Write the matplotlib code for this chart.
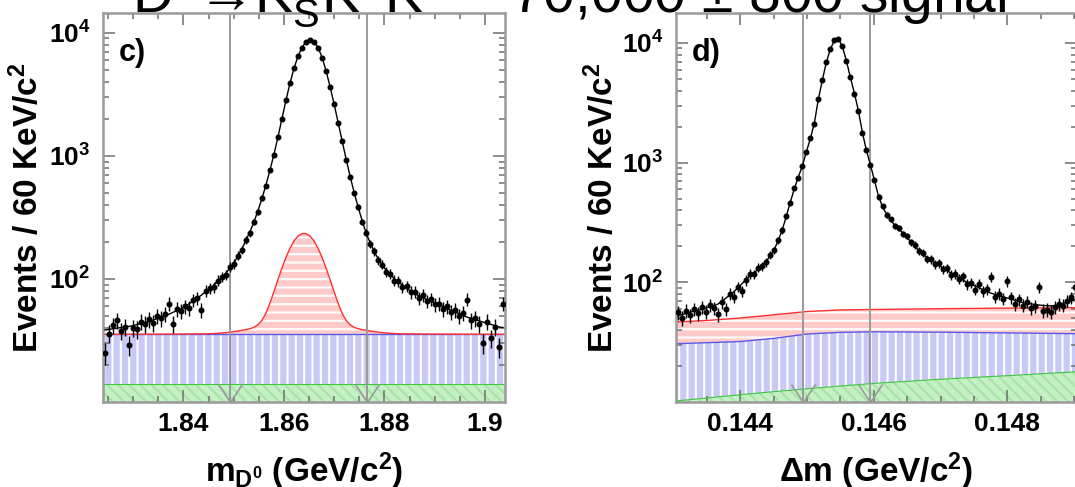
import numpy as np
import matplotlib
matplotlib.use("Agg")
import matplotlib.pyplot as plt
from matplotlib.path import Path
from matplotlib.ticker import FixedLocator, FixedFormatter, MultipleLocator, LogLocator, NullFormatter

plt.rcParams['font.family'] = ['Liberation Sans', 'DejaVu Sans']
plt.rcParams['mathtext.fontset'] = 'custom'
plt.rcParams['mathtext.rm'] = 'Liberation Sans'
plt.rcParams['mathtext.it'] = 'Liberation Sans:italic'
plt.rcParams['mathtext.bf'] = 'Liberation Sans:bold'
plt.rcParams['hatch.linewidth'] = 1.5

# ---------------- panel c) : m(D0) ----------------
c_range = (1.824, 1.904)
c_nbins = 100
c_counts = [25, 36, 42, 46, 38, 41, 29, 40, 39, 45,
            43, 47, 44, 50, 48, 52, 63, 43, 57, 55,
            60, 58, 67, 70, 56, 80, 84, 86, 97, 104,
            108, 125, 133, 155, 172, 208, 236, 292, 350, 452,
            570, 765, 1015, 1420, 1990, 2830, 3880, 5140, 6440, 7600,
            8500, 8820, 8490, 7600, 6300, 4910, 3620, 2640, 1850, 1330,
            925, 680, 498, 385, 290, 238, 192, 168, 142, 131,
            114, 110, 97, 96, 86, 87, 78, 79, 70, 74,
            66, 69, 62, 63, 57, 60, 54, 56, 50, 53,
            68, 46, 48, 43, 30, 45, 33, 41, 28, 63]
c_fit = [38.5, 38.9, 39.4, 39.8, 40.3, 40.7, 41.2, 41.7, 42.7, 43.6,
         44.2, 45.2, 46.2, 47.9, 49.0, 50.1, 51.9, 53.7, 55.6, 57.5,
         60.3, 63.1, 66.1, 70.0, 74.0, 78.5, 83.0, 89.0, 95.5, 102,
         111, 122, 135, 151, 174, 204, 240, 288, 355, 447,
         575, 759, 1023, 1413, 1995, 2818, 3890, 5130, 6457, 7586,
         8511, 8810, 8511, 7586, 6310, 4898, 3631, 2630, 1862, 1318,
         933, 676, 501, 380, 295, 234, 195, 166, 145, 129,
         117, 108, 100, 94, 89, 84, 80, 77, 73, 71,
         68, 66, 64, 62, 60, 57.5, 55.6, 53.7, 52.5, 50.7,
         49.0, 47.9, 46.8, 45.7, 44.7, 43.6, 42.7, 41.7, 40.7, 40.3]
c_peaking = [0.1, 0.1, 0.1, 0.1, 0.1, 0.1, 0.1, 0.15, 0.15, 0.15,
             0.15, 0.2, 0.2, 0.2, 0.2, 0.2, 0.25, 0.25, 0.25, 0.3,
             0.3, 0.3, 0.35, 0.35, 0.4, 0.4, 0.5, 0.6, 0.8, 1.0,
             1.2, 1.5, 1.9, 2.3, 2.8, 3.3, 4.0, 5.0, 7.0, 10.5,
             17, 28, 43, 63, 87, 114, 142, 168, 188, 198,
             198, 188, 168, 142, 114, 87, 63, 43, 28, 17,
             10.5, 7.0, 5.0, 4.0, 3.3, 2.8, 2.3, 1.9, 1.5, 1.2,
             1.0, 0.8, 0.6, 0.5, 0.4, 0.4, 0.35, 0.35, 0.3, 0.3,
             0.3, 0.25, 0.25, 0.25, 0.2, 0.2, 0.2, 0.2, 0.2, 0.15,
             0.15, 0.15, 0.15, 0.1, 0.1, 0.1, 0.1, 0.1, 0.1, 0.1]
c_green_level = 14.1
c_blue_level = 35.4
c_cuts = [1.8493, 1.8765]
c_ylim = (10, 14500)
c_xticks = [1.84, 1.86, 1.88, 1.90]
c_xticklabels = ["1.84", "1.86", "1.88", "1.9"]

# ---------------- panel d) : delta m ----------------
d_range = (0.14304, 0.14904)
d_nbins = 100
d_counts = [56, 50, 58, 53, 60, 55, 62, 57, 65, 61,
            54, 68, 60, 80, 76, 92, 84, 104, 118, 117,
            133, 136, 147, 170, 185, 226, 272, 358, 462, 610,
            750, 940, 1220, 1600, 2120, 3400, 4880, 6950, 8880, 10500,
            10800, 9380, 7050, 5150, 3780, 2710, 1770, 1265, 950, 715,
            520, 432, 366, 335, 296, 287, 255, 244, 216, 206,
            182, 175, 158, 156, 142, 144, 128, 131, 116, 118,
            107, 112, 96, 99, 87, 97, 84, 88, 111, 76,
            80, 73, 102, 75, 66, 72, 64, 69, 61, 63,
            91, 58, 59, 57, 62, 66, 64, 70, 75, 92]
d_fit = [52.5, 53.7, 55.0, 56.2, 57.5, 58.2, 59.6, 61.0, 62.4, 63.8,
         66.0, 69.5, 74.1, 78.5, 84.1, 90.2, 97.7, 106, 114, 120,
         129, 138, 150, 166, 188, 224, 275, 355, 468, 603,
         759, 933, 1230, 1585, 2138, 3388, 4898, 6918, 8913, 10471,
         10839, 9333, 7079, 5129, 3802, 2692, 1778, 1259, 955, 708,
         525, 427, 372, 331, 302, 282, 260, 240, 219, 202,
         186, 172, 162, 153, 146, 140, 132, 126, 120, 115,
         110, 105, 100, 96.6, 93.3, 90.2, 87.1, 84.1, 81.3, 79.4,
         77.6, 75.9, 74.1, 72.4, 70.8, 69.2, 67.6, 66.8, 66.1, 65.3,
         64.6, 64.1, 63.8, 63.5, 64.0, 65.0, 66.5, 68.0, 70.0, 72.0]
d_comp_x = [0.14304, 0.1435, 0.1440, 0.1445, 0.1450, 0.1455, 0.1460, 0.1470, 0.1480, 0.14904]
d_green_top = [10.2, 10.8, 11.5, 12.2, 12.9, 13.6, 14.3, 15.5, 16.6, 17.9]
d_blue_top = [30.7, 31.3, 32.0, 34.0, 37.0, 38.2, 38.6, 38.3, 37.8, 37.2]
d_red_top = [46.6, 48.0, 50.3, 53.5, 57.0, 58.8, 59.3, 60.2, 60.9, 61.4]
d_cuts = [0.14494, 0.14594]
d_ylim = (10, 17800)
d_xticks = [0.144, 0.146, 0.148]
d_xticklabels = ["0.144", "0.146", "0.148"]

yticks = [1e2, 1e3, 1e4]
yticklabels = [r"$\mathbf{10^{2}}$", r"$\mathbf{10^{3}}$", r"$\mathbf{10^{4}}$"]
ylabel = r"Events / 60 KeV/c$^{\mathbf{2}}$"
c_xlabel = r"m$_{\mathbf{D^{0}}}$ (GeV/c$^{\mathbf{2}}$)"
d_xlabel = r"Δm (GeV/c$^{\mathbf{2}}$)"
title = r"D$^{0}$→K$^{0}_{\mathrm{S}}$K$^{+}$K$^{-}$ – 70,000 ± 800 signal"

GREEN_FC, GREEN_HC, GREEN_LC = '#c4f0c4', '#a9e3a9', '#3cc83c'
BLUE_FC, BLUE_LC = '#c9c9f7', '#5a5ae6'
RED_FC, RED_LC = '#ffcaca', '#ff3030'
GRAY = '#9a9a9a'

vmark = Path([(-1, 1.5), (0, 0), (1, 1.5)], [Path.MOVETO, Path.LINETO, Path.LINETO])


def bin_centers(rng, n):
    w = (rng[1] - rng[0]) / n
    return rng[0] + w * (np.arange(n) + 0.5)


def style_axes(ax, rng, ylim, xticks, xticklabels, xminor, xlabel, panel, ylab_x):
    ax.set_yscale('log')
    ax.set_xlim(*rng)
    ax.set_ylim(*ylim)
    ax.xaxis.set_major_locator(FixedLocator(xticks))
    ax.xaxis.set_major_formatter(FixedFormatter(xticklabels))
    ax.xaxis.set_minor_locator(MultipleLocator(xminor))
    ax.yaxis.set_major_locator(FixedLocator(yticks))
    ax.yaxis.set_major_formatter(FixedFormatter(yticklabels))
    ax.yaxis.set_minor_locator(LogLocator(base=10, subs=np.arange(2, 10)))
    ax.yaxis.set_minor_formatter(NullFormatter())
    ax.tick_params(which='both', direction='in', top=True, right=True, colors='#6e6e6e',
                   labelcolor='black', width=1.1)
    ax.tick_params(which='major', length=8.5)
    ax.tick_params(which='minor', length=4.3)
    ax.tick_params(axis='x', which='major', labelsize=19, pad=7)
    ax.tick_params(axis='y', which='major', labelsize=19, pad=9)
    for lab in ax.get_xticklabels():
        lab.set_fontweight('bold')
    for sp in ax.spines.values():
        sp.set_color(GRAY)
        sp.set_linewidth(1.8)
    ax.set_ylabel(ylabel, fontsize=24, fontweight='bold')
    ax.yaxis.set_label_coords(ylab_x, 0.5)
    ax.set_xlabel(xlabel, fontsize=24, fontweight='bold', va='top')
    ax.xaxis.set_label_coords(0.5, -0.124)
    ax.text(0.04, 0.935, panel, transform=ax.transAxes, fontsize=22, fontweight='bold',
            va='top', ha='left')


def draw_cuts(ax, cuts, ybottom):
    for xc in cuts:
        ax.axvline(xc, color=GRAY, lw=1.4, zorder=3)
        ax.plot([xc], [ybottom], marker=vmark, ms=26, mfc='none', mec=GRAY, mew=1.2,
                clip_on=False, zorder=6)


fig = plt.figure(figsize=(10.75, 4.87), dpi=100)
axc = fig.add_axes([103 / 1075, 1 - 402 / 487, 402 / 1075, 389 / 487])
axd = fig.add_axes([676 / 1075, 1 - 402 / 487, 401 / 1075, 389 / 487])

# ---- panel c
xc = bin_centers(c_range, c_nbins)
xe = np.r_[c_range[0], xc, c_range[1]]
pk = np.array(c_peaking)
pk_e = np.r_[pk[0], pk, pk[-1]]
low = 1.0
axc.fill_between(c_range, low, c_green_level, facecolor=GREEN_FC, edgecolor=GREEN_HC,
                 hatch='\\\\\\', linewidth=0, zorder=1)
axc.fill_between(c_range, c_green_level, c_blue_level, facecolor=BLUE_FC, edgecolor='white',
                 hatch='||', linewidth=0, zorder=1)
axc.fill_between(xe, c_blue_level, c_blue_level + pk_e, facecolor=RED_FC, edgecolor='white',
                 hatch='--', linewidth=0, zorder=1)
axc.plot(c_range, [c_green_level] * 2, color=GREEN_LC, lw=0.8, zorder=2)
axc.plot(c_range, [c_blue_level] * 2, color=BLUE_LC, lw=1.0, zorder=2)
axc.plot(xe, c_blue_level + pk_e, color=RED_LC, lw=1.0, zorder=2)
draw_cuts(axc, c_cuts, c_ylim[0])
axc.plot(xc, c_fit, color='black', lw=1.0, zorder=4)
cc = np.array(c_counts, dtype=float)
axc.errorbar(xc, cc, yerr=np.sqrt(cc), fmt='o', color='black', ms=3.3, elinewidth=1,
             capsize=0, zorder=5)
style_axes(axc, c_range, c_ylim, c_xticks, c_xticklabels, 0.005, c_xlabel, 'c)', -0.145)

# ---- panel d
xd = bin_centers(d_range, d_nbins)
axd.fill_between(d_comp_x, low, d_green_top, facecolor=GREEN_FC, edgecolor=GREEN_HC,
                 hatch='\\\\\\', linewidth=0, zorder=1)
axd.fill_between(d_comp_x, d_green_top, d_blue_top, facecolor=BLUE_FC, edgecolor='white',
                 hatch='||', linewidth=0, zorder=1)
axd.fill_between(d_comp_x, d_blue_top, d_red_top, facecolor=RED_FC, edgecolor='white',
                 hatch='--', linewidth=0, zorder=1)
axd.plot(d_comp_x, d_green_top, color=GREEN_LC, lw=0.8, zorder=2)
axd.plot(d_comp_x, d_blue_top, color=BLUE_LC, lw=1.0, zorder=2)
axd.plot(d_comp_x, d_red_top, color=RED_LC, lw=1.0, zorder=2)
draw_cuts(axd, d_cuts, d_ylim[0])
axd.plot(xd, d_fit, color='black', lw=1.0, zorder=4)
dc = np.array(d_counts, dtype=float)
axd.errorbar(xd, dc, yerr=np.sqrt(dc), fmt='o', color='black', ms=3.3, elinewidth=1,
             capsize=0, zorder=5)
style_axes(axd, d_range, d_ylim, d_xticks, d_xticklabels, 0.0005, d_xlabel, 'd)', -0.14)

fig.text(132 / 1075, 1 - 12 / 487, title, fontsize=41, ha='left', va='baseline')

fig.savefig('out.png', dpi=100)
